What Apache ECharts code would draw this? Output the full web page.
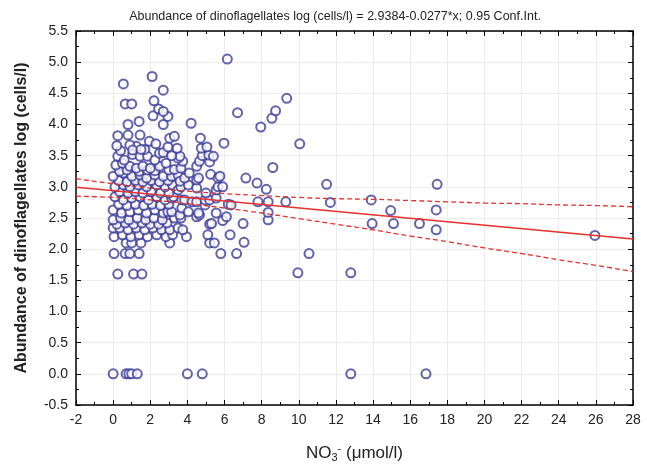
<!DOCTYPE html>
<html>
<head>
<meta charset="utf-8">
<script src="https://cdn.jsdelivr.net/npm/echarts@6/dist/echarts.min.js"></script>
<style>
  html, body { margin: 0; padding: 0; background: #fff; }
  #main { width: 647px; height: 472px; }
</style>
</head>
<body>
<div id="main"></div>
<script>
// fit from the title: y = 2.9384 - 0.0277 * x
const intercept = 2.9384;
const slope = -0.0277;

// NO3 (umol/l), log abundance
const points = [
  [0.0, 0], [0.7, 0], [0.85, 0], [1.0, 0], [1.3, 0], [4.0, 0], [4.8, 0], [12.8, 0], [16.85, 0],
  [0.25, 1.6], [1.1, 1.6], [1.55, 1.6], [9.95, 1.62], [12.8, 1.62],
  [0.05, 1.93], [0.65, 1.93], [0.9, 1.93], [1.4, 1.93], [5.8, 1.93], [6.65, 1.93], [10.55, 1.93],
  [0.7, 2.1], [1.0, 2.1], [1.5, 2.1], [3.05, 2.1], [5.2, 2.1], [5.45, 2.1], [7.05, 2.11],
  [0.05, 2.2], [0.5, 2.23], [0.95, 2.2], [1.4, 2.23], [1.85, 2.2], [2.35, 2.23], [2.85, 2.2], [3.2, 2.23], [3.95, 2.2], [5.1, 2.23], [6.3, 2.23],
  [0.0, 2.34], [0.35, 2.34], [0.8, 2.31], [1.25, 2.34], [1.7, 2.31], [2.15, 2.34], [2.6, 2.31], [3.05, 2.31], [3.5, 2.34], [3.75, 2.31], [17.4, 2.31],
  [0.2, 2.4], [0.65, 2.42], [1.1, 2.4], [1.55, 2.42], [2.0, 2.4], [2.45, 2.4], [2.9, 2.42],
  [0.0, 2.47], [0.4, 2.5], [0.85, 2.47], [1.3, 2.5], [1.75, 2.47], [2.2, 2.5], [2.65, 2.47], [3.3, 2.5], [3.65, 2.5], [4.5, 2.52], [4.65, 2.55],
  [5.2, 2.4], [5.3, 2.41], [5.9, 2.46], [7.0, 2.41], [8.35, 2.47], [13.95, 2.41], [15.1, 2.41], [16.5, 2.41],
  [0.0, 2.63], [0.45, 2.58], [0.9, 2.6], [1.35, 2.63], [1.8, 2.58], [2.25, 2.63], [2.7, 2.58], [2.95, 2.6], [3.15, 2.6], [3.6, 2.55], [3.7, 2.66],
  [4.05, 2.6], [4.6, 2.58], [5.55, 2.58], [6.1, 2.52], [8.35, 2.59], [14.95, 2.62], [17.4, 2.63],
  [0.3, 2.72], [0.75, 2.7], [1.2, 2.72], [1.65, 2.7], [2.1, 2.72], [2.55, 2.7], [3.0, 2.72],
  [0.1, 2.84], [0.55, 2.79], [1.0, 2.82], [1.45, 2.84], [1.9, 2.79], [2.35, 2.84], [2.8, 2.79], [3.15, 2.82], [3.25, 2.84], [3.7, 2.79], [3.85, 2.79],
  [4.25, 2.76], [4.5, 2.76], [4.95, 2.71], [4.95, 2.79], [5.2, 2.79], [5.55, 2.82], [6.2, 2.72], [6.35, 2.71], [7.8, 2.76], [8.35, 2.76], [9.3, 2.76],
  [11.7, 2.75], [13.9, 2.79],
  [0.35, 2.92], [0.8, 2.9], [1.2, 2.92], [1.6, 2.9], [2.05, 2.92], [2.55, 2.9], [3.0, 2.9],
  [0.1, 3.0], [0.55, 3.03], [0.9, 3.0], [1.35, 3.03], [1.8, 3.0], [2.35, 3.03], [2.8, 3.0], [3.2, 3.03], [3.5, 2.95], [3.65, 3.0], [4.05, 3.03],
  [4.5, 2.98], [5.0, 2.9], [5.55, 2.95], [5.65, 3.0], [5.9, 3.0], [7.75, 3.06], [8.25, 2.96], [11.5, 3.04], [17.45, 3.04],
  [0.3, 3.1], [0.75, 3.08], [1.2, 3.1], [1.6, 3.08], [2.05, 3.1], [2.5, 3.08], [2.95, 3.1],
  [0.0, 3.17], [0.55, 3.22], [1.0, 3.17], [1.45, 3.19], [1.8, 3.14], [2.25, 3.19], [2.7, 3.17], [3.15, 3.17], [3.5, 3.19], [3.6, 3.09], [3.85, 3.14],
  [4.1, 3.22], [4.5, 3.11], [4.6, 3.14], [5.25, 3.2], [5.65, 3.14], [5.75, 3.17], [7.15, 3.14],
  [0.35, 3.25], [0.75, 3.27], [1.4, 3.25], [1.85, 3.27], [2.25, 3.26], [3.0, 3.27], [3.3, 3.28],
  [0.15, 3.35], [0.5, 3.38], [0.9, 3.33], [1.25, 3.3], [1.6, 3.33], [2.0, 3.3], [2.5, 3.33], [2.85, 3.38], [3.65, 3.3], [3.75, 3.41], [4.5, 3.33],
  [4.65, 3.41], [5.2, 3.4], [8.6, 3.31],
  [0.25, 3.49], [0.6, 3.43], [1.05, 3.52], [1.45, 3.49], [1.85, 3.49], [2.25, 3.43], [2.5, 3.54], [3.5, 3.46], [3.6, 3.49], [4.8, 3.5], [5.15, 3.51], [5.4, 3.49],
  [0.4, 3.58], [1.25, 3.65], [1.7, 3.6], [2.7, 3.55], [3.15, 3.5],
  [0.2, 3.66], [0.9, 3.67], [1.05, 3.59], [1.5, 3.6], [1.95, 3.73], [2.3, 3.69], [2.95, 3.64], [3.45, 3.62], [4.75, 3.62], [5.05, 3.64], [5.97, 3.7], [10.05, 3.69],
  [0.25, 3.82], [0.8, 3.83], [1.45, 3.83], [3.05, 3.78], [3.3, 3.81], [4.7, 3.78],
  [0.8, 4.0], [1.4, 4.05], [2.7, 4.0], [4.2, 4.02], [7.95, 3.96],
  [2.15, 4.14], [2.95, 4.13], [2.45, 4.25], [2.7, 4.21], [6.7, 4.19], [8.55, 4.1], [8.75, 4.22],
  [0.65, 4.33], [1.0, 4.33], [2.2, 4.38], [9.35, 4.42], [2.7, 4.55], [0.55, 4.65], [2.1, 4.77], [6.15, 5.05],
  [25.95, 2.22]
];

// 0.95 confidence band, read at these x positions
const bandX = [-2, 0, 2, 4, 6, 8, 10, 12, 14, 16, 18, 20, 22, 24, 26, 28];
const bandUpper = [3.13, 3.05, 2.98, 2.93, 2.89, 2.86, 2.83, 2.81, 2.80, 2.78, 2.76, 2.74, 2.73, 2.71, 2.70, 2.68];
const bandLower = [2.85, 2.83, 2.79, 2.73, 2.66, 2.58, 2.49, 2.40, 2.31, 2.21, 2.12, 2.02, 1.93, 1.83, 1.74, 1.64];

const xMin = -2, xMax = 28;
const yMin = -0.5, yMax = 5.5;

const red = '#e8302c';
const navy = '#3b3b99';

let myChart = echarts.init(document.getElementById('main'));

const tickStyle = { inside: true, length: 5, lineStyle: { color: '#000', width: 1 } };
const minorStyle = { show: true, splitNumber: 2, length: 3, lineStyle: { color: '#000', width: 1 } };
const lineStyle = { onZero: false, lineStyle: { color: '#000', width: 1.5 } };

let option = {
  animation: false,
  backgroundColor: '#fff',
  textStyle: { fontFamily: 'Liberation Sans, Arial, sans-serif' },
  title: {
    text: 'Abundance of dinoflagellates log (cells/l) = 2.9384-0.0277*x; 0.95 Conf.Int.',
    left: 330,
    top: 5,
    textAlign: 'center',
    textStyle: { fontSize: 12.5, fontWeight: 'normal', color: '#222' }
  },
  grid: { left: 76, right: 14, top: 31, bottom: 67 },
  xAxis: [
    {
      type: 'value', min: xMin, max: xMax, interval: 2, position: 'bottom',
      name: 'NO{sub|3}{sup|-} (μmol/l)',
      nameLocation: 'middle', nameGap: 38,
      nameTextStyle: {
        fontSize: 17, color: '#222',
        rich: {
          sub: { fontSize: 11, verticalAlign: 'bottom', padding: [9, 0, 0, 0], color: '#222' },
          sup: { fontSize: 11, verticalAlign: 'top', padding: [0, 0, 7, 0], color: '#222' }
        }
      },
      axisLine: lineStyle,
      axisTick: tickStyle,
      minorTick: minorStyle,
      splitLine: { show: true, lineStyle: { color: '#ececec', width: 1 } },
      axisLabel: { fontSize: 14, color: '#222', margin: 8 }
    },
    {
      type: 'value', min: xMin, max: xMax, interval: 2, position: 'top',
      axisLine: lineStyle,
      axisTick: tickStyle,
      minorTick: minorStyle,
      splitLine: { show: false },
      axisLabel: { show: false }
    }
  ],
  yAxis: [
    {
      type: 'value', min: yMin, max: yMax, interval: 0.5, position: 'left',
      name: 'Abundance of dinoflagellates log (cells/l)',
      nameLocation: 'middle', nameGap: 46,
      nameTextStyle: { fontSize: 16, fontWeight: 'bold', color: '#222' },
      axisLine: lineStyle,
      axisTick: tickStyle,
      minorTick: minorStyle,
      splitLine: { show: true, lineStyle: { color: '#ececec', width: 1 } },
      axisLabel: { fontSize: 14, color: '#222', margin: 8, formatter: v => v.toFixed(1) }
    },
    {
      type: 'value', min: yMin, max: yMax, interval: 0.5, position: 'right',
      axisLine: lineStyle,
      axisTick: tickStyle,
      minorTick: minorStyle,
      splitLine: { show: false },
      axisLabel: { show: false }
    }
  ],
  series: [
    {
      name: 'samples',
      type: 'scatter',
      data: points,
      symbol: 'emptyCircle',
      symbolSize: 9,
      itemStyle: { color: navy, borderColor: navy, borderWidth: 1.6 },
      z: 2
    },
    {
      name: 'fit',
      type: 'line',
      data: [[xMin, intercept + slope * xMin], [xMax, intercept + slope * xMax]],
      showSymbol: false,
      lineStyle: { color: red, width: 1.5 },
      z: 3
    },
    {
      name: 'upper',
      type: 'line',
      data: bandX.map((x, i) => [x, bandUpper[i]]),
      smooth: true,
      showSymbol: false,
      lineStyle: { color: red, width: 1.3, type: [5, 3] },
      z: 3
    },
    {
      name: 'lower',
      type: 'line',
      data: bandX.map((x, i) => [x, bandLower[i]]),
      smooth: true,
      showSymbol: false,
      lineStyle: { color: red, width: 1.3, type: [5, 3] },
      z: 3
    }
  ]
};

myChart.setOption(option);
</script>
</body>
</html>
